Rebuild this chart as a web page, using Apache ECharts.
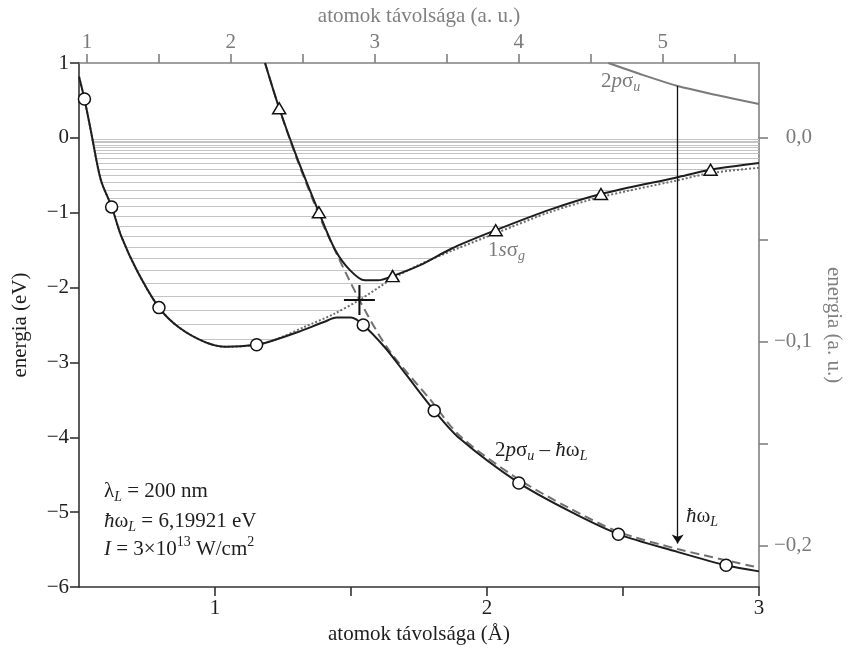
<!DOCTYPE html>
<html lang="hu">
<head>
<meta charset="UTF-8">
<title>H2+ potenciálgörbék</title>
<script src="https://cdn.jsdelivr.net/npm/echarts@6/dist/echarts.min.js"></script>
<style>
    body { margin: 0; background: #fff; }
    #chart { width: 853px; height: 650px; }
</style>
</head>
<body>
<div id="chart"></div>
<script>
    var BOHR = 0.529177;     // Å / a.u.
    var HARTREE = 27.2114;   // eV / a.u.

    // 1s sigma_g (pontozott)
    var sgX = [0.5, 0.52, 0.543, 0.58, 0.62, 0.656, 0.714, 0.794, 0.868, 0.966, 1.04, 1.153, 1.227, 1.33, 1.435, 1.531, 1.653, 1.754, 1.876, 2.036, 2.232, 2.419, 2.697, 2.822, 3.0];
    var sgE = [0.82, 0.52, 0.106, -0.559, -0.92, -1.32, -1.779, -2.267, -2.533, -2.732, -2.79, -2.764, -2.688, -2.523, -2.356, -2.165, -1.88, -1.69, -1.50, -1.268, -0.99, -0.79, -0.57, -0.47, -0.40];

    // 2p sigma_u - hbar omega (szaggatott)
    var dashX = [1.184, 1.236, 1.30, 1.374, 1.411, 1.531, 1.637, 1.79, 1.90, 2.103, 2.30, 2.483, 2.70, 3.0];
    var dashE = [1.0, 0.395, -0.27, -0.958, -1.27, -2.165, -2.821, -3.49, -3.98, -4.529, -4.94, -5.26, -5.49, -5.74];

    // also adiabatikus görbe
    var lowX = [0.5, 0.52, 0.543, 0.58, 0.62, 0.656, 0.714, 0.794, 0.868, 0.966, 1.04, 1.153, 1.202, 1.30, 1.40, 1.447, 1.50, 1.545, 1.625, 1.70, 1.806, 1.901, 2.117, 2.30, 2.483, 2.70, 2.879, 3.0];
    var lowE = [0.82, 0.52, 0.106, -0.559, -0.92, -1.32, -1.779, -2.267, -2.533, -2.732, -2.79, -2.764, -2.72, -2.60, -2.46, -2.40, -2.40, -2.498, -2.80, -3.15, -3.643, -4.02, -4.609, -4.98, -5.293, -5.53, -5.709, -5.79];

    // felso adiabatikus görbe
    var upX = [1.184, 1.236, 1.30, 1.382, 1.441, 1.496, 1.551, 1.60, 1.653, 1.754, 1.876, 2.032, 2.232, 2.419, 2.697, 2.822, 3.0];
    var upE = [1.0, 0.395, -0.25, -0.994, -1.49, -1.766, -1.903, -1.903, -1.846, -1.70, -1.468, -1.233, -0.958, -0.750, -0.528, -0.426, -0.337];

    // 2p sigma_u (szürke, jobb felül)
    var puX = [2.446, 2.575, 2.701, 2.844, 3.0];
    var puE = [1.0, 0.838, 0.692, 0.572, 0.452];

    // jelölok
    var circX = [0.52, 0.62, 0.794, 1.153, 1.545, 1.806, 2.117, 2.483, 2.879];
    var circE = [0.52, -0.922, -2.267, -2.764, -2.498, -3.643, -4.609, -5.293, -5.709];
    var triX = [1.236, 1.382, 1.653, 2.032, 2.419, 2.822];
    var triE = [0.395, -0.994, -1.846, -1.233, -0.750, -0.426];
    var crossX = 1.531, crossE = -2.165;

    // foton nyíl
    var arrowX = 2.701, arrowTop = 0.692, arrowBottom = -5.416;

    // rezgési szintek (eV)
    var levels = [-0.017, -0.040, -0.063, -0.093, -0.124, -0.160, -0.209, -0.270, -0.337, -0.417, -0.502, -0.595, -0.696, -0.802, -0.918, -1.042, -1.180, -1.314, -1.460, -1.614, -1.774, -1.943, -2.116, -2.298, -2.489, -2.688];

    // tengely beosztások
    var xTicks = [1, 1.5, 2, 2.5, 3];
    var xLabels = [1, 2, 3];
    var auTicks = [1, 1.5, 2, 2.5, 3, 3.5, 4, 4.5, 5, 5.5];
    var auLabels = [1, 2, 3, 4, 5];
    var eauTicks = [-0.2, -0.15, -0.1, -0.05, 0];
    var eauLabels = [-0.2, -0.1, 0];

    var FONT = "'Liberation Serif', 'DejaVu Serif', serif";
    var FS = 21;
    var DARK = '#1e1e1e';
    var GREY = '#7a7a7a';

    function pairs(xs, ys) {
        var out = [];
        for (var i = 0; i < xs.length; i++) out.push([xs[i], ys[i]]);
        return out;
    }

    // hol metszi a görbe a szintet (lineárisan)
    function crossAt(xs, es, level, from, to) {
        var step = from < to ? 1 : -1;
        for (var i = from; i !== to; i += step) {
            var e1 = es[i], e2 = es[i + step];
            if ((e1 - level) * (e2 - level) <= 0) {
                var t = (level - e1) / (e2 - e1);
                return xs[i] + t * (xs[i + step] - xs[i]);
            }
        }
        return null;
    }

    var minIdx = 10;
    var levelLines = levels.map(function (lv) {
        var a = crossAt(sgX, sgE, lv, minIdx, 0);
        var b = crossAt(sgX, sgE, lv, minIdx, sgX.length - 1);
        if (b === null) b = 3;
        return { coords: [[a, lv], [b, lv]] };
    });

    var chart = echarts.init(document.getElementById('chart'));

    function axisBase(color, lineW) {
        return {
            type: 'value',
            axisLine: { show: true, onZero: false, lineStyle: { color: color, width: lineW } },
            axisTick: { show: true, inside: false, length: 9, lineStyle: { color: color, width: lineW } },
            splitLine: { show: false },
            nameLocation: 'middle',
            nameTextStyle: { fontFamily: FONT, fontSize: FS, color: color }
        };
    }

    var xBottom = axisBase('#333', 1.6);
    xBottom.position = 'bottom';
    xBottom.min = 0.5; xBottom.max = 3;
    xBottom.axisTick.customValues = xTicks;
    xBottom.axisLabel = { customValues: xLabels, color: DARK, fontFamily: FONT, fontSize: FS, margin: 11 };
    xBottom.name = 'atomok távolsága (Å)';
    xBottom.nameGap = 36;
    xBottom.nameTextStyle.color = DARK;

    var xTop = axisBase('#808080', 1.6);
    xTop.position = 'top';
    xTop.min = 0.5 / BOHR; xTop.max = 3 / BOHR;
    xTop.axisTick.customValues = auTicks;
    xTop.axisLabel = { customValues: auLabels, color: GREY, fontFamily: FONT, fontSize: FS, margin: 10 };
    xTop.name = 'atomok távolsága (a. u.)';
    xTop.nameGap = 35;

    var yLeft = axisBase('#333', 1.6);
    yLeft.position = 'left';
    yLeft.min = -6; yLeft.max = 1; yLeft.interval = 1;
    yLeft.axisLabel = {
        color: DARK, fontFamily: FONT, fontSize: FS, margin: 10,
        formatter: function (v) { return String(v).replace('-', '−'); }
    };
    yLeft.name = 'energia (eV)';
    yLeft.nameGap = 48;
    yLeft.nameTextStyle.color = DARK;

    var yRight = axisBase('#808080', 1.6);
    yRight.position = 'right';
    yRight.min = -6 / HARTREE; yRight.max = 1 / HARTREE;
    yRight.axisTick.customValues = eauTicks;
    yRight.axisLabel = {
        customValues: eauLabels, color: GREY, fontFamily: FONT, fontSize: FS, margin: 53, align: 'right',
        formatter: function (v) { return v.toFixed(1).replace('.', ',').replace('-', '−'); }
    };
    yRight.name = 'energia (a. u.)';
    yRight.nameGap = 58;
    yRight.nameRotate = -90;

    function curve(name, xs, ys, color, type, z) {
        return {
            name: name, type: 'line', xAxisIndex: 0, yAxisIndex: 0,
            data: pairs(xs, ys), showSymbol: false, smooth: 0.3,
            lineStyle: { color: color, width: 2, type: type }, z: z, silent: true
        };
    }

    var pu = curve('2psu', puX, puE, GREY, 'solid', 3);
    pu.markLine = {
        silent: true, symbol: ['none', 'arrow'], symbolSize: 9,
        label: { show: false },
        lineStyle: { color: '#111', width: 1.3, type: 'solid' },
        data: [[{ coord: [arrowX, arrowTop] }, { coord: [arrowX, arrowBottom] }]]
    };

    var option = {
        animation: false,
        backgroundColor: '#fff',
        grid: { left: 79, right: 94, top: 63, bottom: 61 },
        xAxis: [xBottom, xTop],
        yAxis: [yLeft, yRight],
        series: [
            {
                type: 'lines', coordinateSystem: 'cartesian2d', xAxisIndex: 0, yAxisIndex: 0,
                data: levelLines, silent: true, z: 1,
                lineStyle: { color: '#c4c4c4', width: 1.2, opacity: 1 }
            },
            curve('1sg', sgX, sgE, '#6e6e6e', [2, 2], 2),
            curve('dressed', dashX, dashE, '#707070', [9, 5], 2),
            pu,
            curve('lower', lowX, lowE, DARK, 'solid', 4),
            curve('upper', upX, upE, DARK, 'solid', 4),
            {
                type: 'scatter', data: pairs(circX, circE), symbol: 'circle', symbolSize: 12, clip: false, z: 6,
                itemStyle: { color: '#fff', borderColor: '#111', borderWidth: 1.5, opacity: 1 }, silent: true
            },
            {
                type: 'scatter', data: pairs(triX, triE), symbol: 'triangle', symbolSize: [13, 11], clip: false, z: 6,
                itemStyle: { color: '#fff', borderColor: '#111', borderWidth: 1.5, opacity: 1 }, silent: true
            },
            {
                type: 'scatter', data: [[crossX, crossE]], symbolSize: [31, 30], z: 7,
                symbol: 'path://M14,0h2v14h14v2h-14v14h-2v-14h-14v-2h14z',
                itemStyle: { color: '#111', opacity: 1 }, silent: true
            }
        ]
    };
    chart.setOption(option);

    // feliratok (alsó/felso indexekkel)
    var ctx = document.createElement('canvas').getContext('2d');
    function label(x, y, parts, color) {
        var els = [];
        parts.forEach(function (p) {
            var size = p.s || FS;
            var font = (p.it ? 'italic ' : '') + size + 'px ' + FONT;
            ctx.font = font;
            els.push({
                type: 'text', x: x, y: y + (p.dy || 0), silent: true, z: 100,
                style: { text: p.t, font: font, fill: color, textAlign: 'left', textVerticalAlign: 'middle' }
            });
            x += ctx.measureText(p.t).width + (p.gap || 0);
        });
        return els;
    }
    var SUB = 6, SUP = -7, SS = 14;
    var texts = [].concat(
        label(601, 81, [{ t: '2' }, { t: 'p', it: 1 }, { t: 'σ' }, { t: 'u', it: 1, s: SS, dy: SUB }], GREY),
        label(488, 250, [{ t: '1' }, { t: 's', it: 1 }, { t: 'σ' }, { t: 'g', it: 1, s: SS, dy: SUB }], GREY),
        label(495, 450, [{ t: '2' }, { t: 'p', it: 1 }, { t: 'σ' }, { t: 'u', it: 1, s: SS, dy: SUB }, { t: ' – ' },
            { t: 'ħ', it: 1 }, { t: 'ω' }, { t: 'L', it: 1, s: SS, dy: SUB }], DARK),
        label(686, 516, [{ t: 'ħ', it: 1 }, { t: 'ω' }, { t: 'L', it: 1, s: SS, dy: SUB }], DARK),
        label(104, 491, [{ t: 'λ' }, { t: 'L', it: 1, s: SS, dy: SUB }, { t: ' = 200 nm' }], DARK),
        label(104, 521, [{ t: 'ħ', it: 1 }, { t: 'ω' }, { t: 'L', it: 1, s: SS, dy: SUB }, { t: ' = 6,19921 eV' }], DARK),
        label(104, 549, [{ t: 'I', it: 1 }, { t: ' = 3×10' }, { t: '13', s: SS, dy: SUP }, { t: ' W/cm' }, { t: '2', s: SS, dy: SUP }], DARK)
    );
    chart.setOption({ graphic: texts });
</script>
</body>
</html>
